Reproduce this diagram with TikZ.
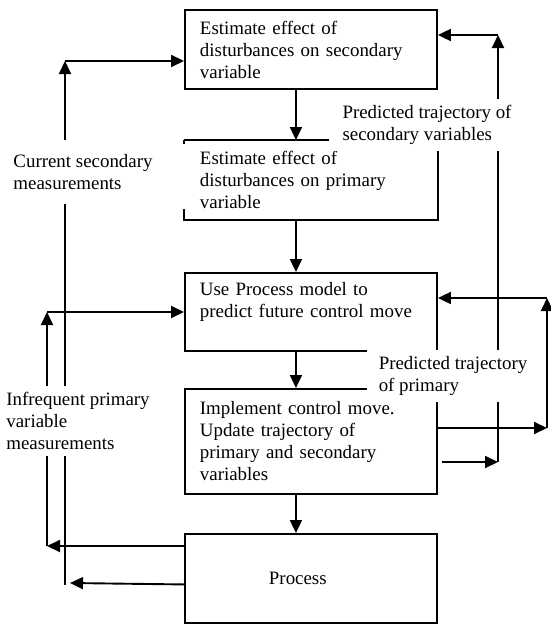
\documentclass[tikz,border=0pt]{standalone}
\usepackage{fontspec}
\setmainfont{Liberation Serif}
\usetikzlibrary{arrows.meta}
\begin{document}
\begin{tikzpicture}[x=1pt,y=-1pt,line width=1.9pt,
  txt/.style={font=\fontsize{18.9}{22}\selectfont},
  box/.style={txt,minimum width=252pt,align=left,text width=222pt,inner xsep=15pt,inner ysep=0pt,anchor=north west},
  arr/.style={-{Triangle[length=13pt,width=12pt]}},
  lab/.style={txt,fill=white,align=left,inner xsep=8pt,inner ysep=8pt}]
\useasboundingbox (0,0) rectangle (551,624);
% boxes
\node[box,draw,minimum height=79pt] (b1) at (184,9) {Estimate effect of\\disturbances on secondary\\variable};
\node[box,minimum height=78pt] (b2) at (184,140) {Estimate effect of\\disturbances on primary\\variable};
\draw (b2.north west) -- ++(0,4);
\draw ([yshift=11pt]b2.south west) -- (b2.south west) -- (b2.south east) -- (b2.north east) -- (b2.north west);
\node[box,draw,minimum height=78pt] (b3) at (184,272) {Use Process model to\\predict future control move\\[2pt]\mbox{}};
\node[box,draw,minimum height=105pt] (b4) at (184,388) {Implement control move.\\Update trajectory of\\primary and secondary\\variables};
\node[box,draw,minimum height=89pt] (pr) at (184,533) {\hspace*{69pt}Process};
% vertical flow
\draw[arr] ([xshift=-15pt]b1.south) -- ([xshift=-15pt]b2.north);
\draw[arr] ([xshift=-15pt]b2.south) -- ([xshift=-15pt]b3.north);
\draw[arr] ([xshift=-15pt]b3.south) -- ([xshift=-15pt]b4.north);
\draw[arr] ([xshift=-15pt]b4.south) -- ([xshift=-15pt]pr.north);
% left feedback: infrequent primary
\coordinate (pb) at (47,546);
\coordinate (pt) at (47,312);
\draw[arr] (pr.west |- pb) -- (pb);
\draw[arr] (pb) -- (pt);
\draw[arr] (pt) -- (b3.west |- pt);
% left feedback: current secondary
\coordinate (sb) at (65,585);
\coordinate (st) at (65,61);
\draw[arr] ([yshift=-6pt]pr.west) -- (70,583);
\draw[arr] (sb) -- (st);
\draw[arr] (st) -- (b1.west |- st);
% right feedback: primary
\coordinate (qb) at (547,428);
\coordinate (qt) at (547,298);
\draw[arr] (b4.east |- qb) -- (qb);
\draw[arr] (qb) -- (qt);
\draw[arr] (qt) -- (b3.east |- qt);
% right feedback: secondary
\coordinate (rb) at (498,462);
\coordinate (rt) at (498,35);
\draw[arr] (442,462) -- (rb);
\draw[arr] (rb) -- (rt);
\draw[arr] (rt) -- (b1.east |- rt);
% labels
\node[lab,inner ysep=14pt] (l1) at (83,172) {Current secondary\\measurements};
\node[lab,inner ysep=6pt] (l2) at (78,421) {Infrequent primary\\variable\\measurements};
\node[lab,inner xsep=14pt,inner ysep=6pt] (l3) at (427,125) {Predicted trajectory of\\secondary variables};
\node[lab,inner xsep=12pt,inner ysep=6pt] (l4) at (453,376) {Predicted trajectory\\of primary};
\end{tikzpicture}
\end{document}
